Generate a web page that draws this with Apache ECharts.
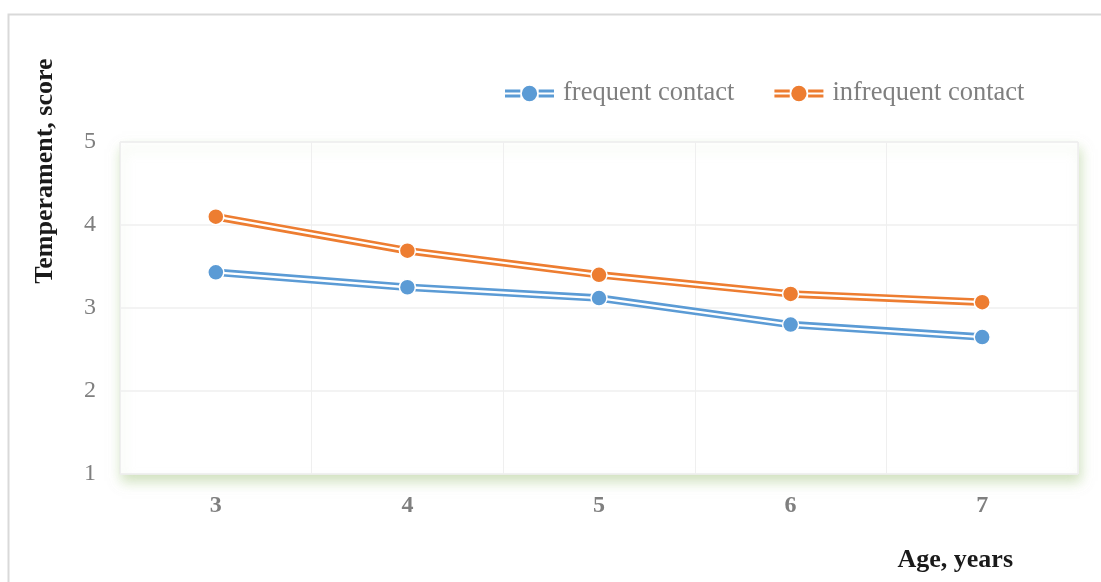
<!DOCTYPE html>
<html>
<head>
<meta charset="utf-8">
<style>
  html, body { margin: 0; padding: 0; background: #ffffff; }
  #chart { width: 1101px; height: 582px; }
</style>
<script src="https://cdn.jsdelivr.net/npm/echarts@6/dist/echarts.min.js"></script>
</head>
<body>
<div id="chart"></div>
<script>
// Age groups on the x axis
const ages = ['3', '4', '5', '6', '7'];
// Mean temperament scores by contact frequency
const frequentContact = [3.43, 3.25, 3.12, 2.80, 2.65];
const infrequentContact = [4.10, 3.69, 3.40, 3.17, 3.07];
const seriesNames = ['frequent contact', 'infrequent contact'];
const yTicks = { min: 1, max: 5, interval: 1 };

const BLUE = '#5B9BD5';
const ORANGE = '#ED7D31';
const SERIF = '"Liberation Serif", "Times New Roman", serif';

// Legend glyph: double line with a dot in the middle
const legendIcon = 'path://M0,4.6 L15,4.6 L15,7.4 L0,7.4 Z M0,9.6 L15,9.6 L15,12.4 L0,12.4 Z ' +
  'M33,4.6 L48,4.6 L48,7.4 L33,7.4 Z M33,9.6 L48,9.6 L48,12.4 L33,12.4 Z ' +
  'M31.5,8.5 A7.5,7.5 0 1 1 16.5,8.5 A7.5,7.5 0 1 1 31.5,8.5 Z';

// Each series is a thick coloured line with a thin white line on top,
// which gives the double-stroke look; the markers sit on a third layer.
function doubleLine(name, data, color) {
  return [
    {
      name: name + ' outer', type: 'line', data: data, z: 3, silent: true,
      showSymbol: false, symbol: 'none',
      lineStyle: { color: color, width: 7.5 }
    },
    {
      name: name + ' inner', type: 'line', data: data, z: 4, silent: true,
      showSymbol: false, symbol: 'none',
      lineStyle: { color: '#ffffff', width: 2.3 }
    },
    {
      name: name, type: 'line', data: data, z: 5,
      symbol: 'circle', symbolSize: 16,
      itemStyle: { color: color, borderColor: '#ffffff', borderWidth: 1.5 },
      lineStyle: { width: 0, opacity: 0, color: color }
    }
  ];
}

const chart = echarts.init(document.getElementById('chart'), null, { renderer: 'canvas' });

chart.setOption({
  animation: false,
  backgroundColor: '#ffffff',
  graphic: [
    {
      type: 'rect', left: 6, top: 12, z: -10, silent: true,
      shape: { width: 1120, height: 600 },
      style: { fill: 'none', stroke: '#d9d9d9', lineWidth: 2 }
    }
  ],
  legend: {
    data: seriesNames,
    top: 75, left: 500,
    icon: legendIcon,
    itemWidth: 49, itemHeight: 17, itemGap: 40,
    itemStyle: { borderWidth: 0 },
    textStyle: { fontFamily: SERIF, fontSize: 26.5, color: '#7f7f7f', padding: [0, 0, 0, 4] }
  },
  grid: {
    left: 120, right: 23, top: 142, bottom: 108,
    show: true,
    backgroundColor: '#ffffff',
    borderColor: '#e6e6e6', borderWidth: 1,
    shadowColor: 'rgba(175, 205, 145, 0.6)', shadowBlur: 12,
    shadowOffsetX: 2, shadowOffsetY: 7
  },
  xAxis: {
    type: 'category',
    data: ages,
    boundaryGap: true,
    name: 'Age, years',
    nameLocation: 'end',
    nameGap: 0,
    nameTextStyle: {
      fontFamily: SERIF, fontSize: 26, fontWeight: 'bold', color: '#1a1a1a',
      align: 'right', verticalAlign: 'top', padding: [73, 65, 0, 0]
    },
    axisLine: { show: false },
    axisTick: { show: false },
    axisLabel: {
      margin: 20, fontFamily: SERIF, fontSize: 24, fontWeight: 'bold', color: '#7f7f7f'
    },
    splitLine: { show: true, lineStyle: { color: '#efefef', width: 1 } }
  },
  yAxis: {
    type: 'value',
    min: yTicks.min, max: yTicks.max, interval: yTicks.interval,
    name: 'Temperament, score',
    nameLocation: 'middle',
    nameRotate: 90,
    nameGap: 62,
    nameTextStyle: {
      fontFamily: SERIF, fontSize: 26, fontWeight: 'bold', color: '#1a1a1a',
      padding: [0, 0, 0, 274]
    },
    axisLine: { show: false },
    axisTick: { show: false },
    axisLabel: { margin: 24, fontFamily: SERIF, fontSize: 24, color: '#7f7f7f' },
    splitLine: { show: true, lineStyle: { color: '#efefef', width: 1.5 } }
  },
  series: [].concat(
    doubleLine(seriesNames[0], frequentContact, BLUE),
    doubleLine(seriesNames[1], infrequentContact, ORANGE)
  )
});
</script>
</body>
</html>
